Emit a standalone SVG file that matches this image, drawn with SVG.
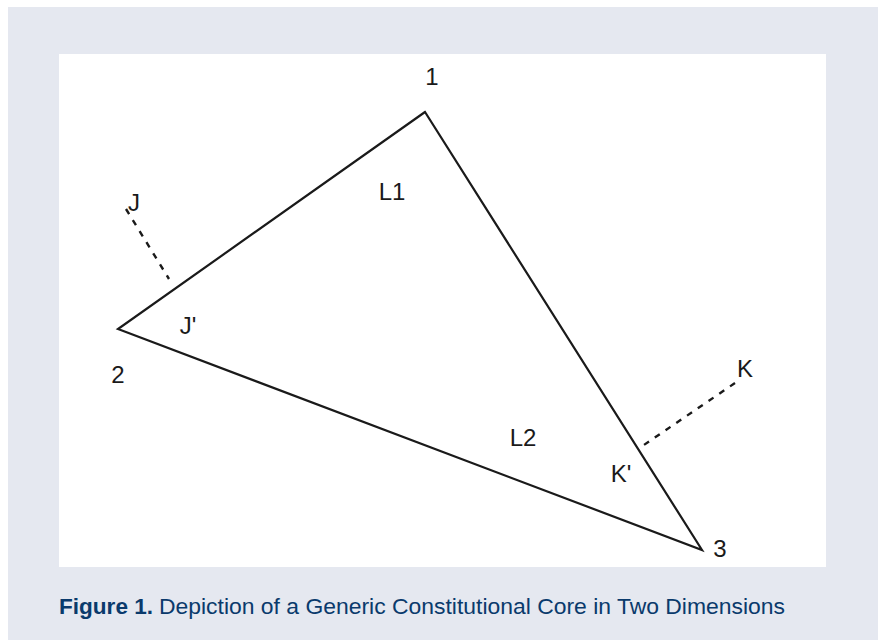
<svg xmlns="http://www.w3.org/2000/svg" width="878" height="640" viewBox="0 0 878 640">
<style>
.lbl{font-family:"Liberation Sans",Arial,sans-serif;font-size:24px;fill:#1a1a1a}
.edge{stroke:#1a1a1a;stroke-width:2.2;fill:none;stroke-linejoin:miter}
.dash{stroke:#1a1a1a;stroke-width:2.4;fill:none;stroke-dasharray:6 7}
.cap{font-family:"Liberation Sans",Arial,sans-serif;font-size:22px;fill:#0a3a6c}
</style>
<rect x="0" y="0" width="878" height="640" fill="#ffffff"/>
<rect x="8" y="7" width="870" height="633" fill="#e5e8f0"/>
<rect x="59" y="54" width="767" height="513" fill="#ffffff"/>
<g id="connectors">
<polygon class="edge" points="425,112 118,329 702,550"/>
<line class="dash" x1="126" y1="209" x2="169" y2="279"/>
<line class="dash" x1="735" y1="383" x2="638" y2="449"/>
</g>
<g id="node-1"><text class="lbl" x="432" y="85" text-anchor="middle">1</text></g>
<g id="node-2"><text class="lbl" x="118" y="383" text-anchor="middle">2</text></g>
<g id="node-3"><text class="lbl" x="720" y="557" text-anchor="middle">3</text></g>
<g id="node-L1"><text class="lbl" x="392" y="200" text-anchor="middle">L1</text></g>
<g id="node-L2"><text class="lbl" x="523" y="446" text-anchor="middle">L2</text></g>
<g id="node-J"><text class="lbl" x="134" y="211" text-anchor="middle">J</text></g>
<g id="node-Jp"><text class="lbl" x="188" y="334" text-anchor="middle">J'</text></g>
<g id="node-K"><text class="lbl" x="745" y="377" text-anchor="middle">K</text></g>
<g id="node-Kp"><text class="lbl" x="621" y="482" text-anchor="middle">K'</text></g>
<g id="caption">
<text class="cap" x="59" y="614" font-weight="bold" textLength="94" lengthAdjust="spacingAndGlyphs">Figure 1.</text>
<text class="cap" x="159" y="614" textLength="626" lengthAdjust="spacingAndGlyphs">Depiction of a Generic Constitutional Core in Two Dimensions</text>
</g>
</svg>
